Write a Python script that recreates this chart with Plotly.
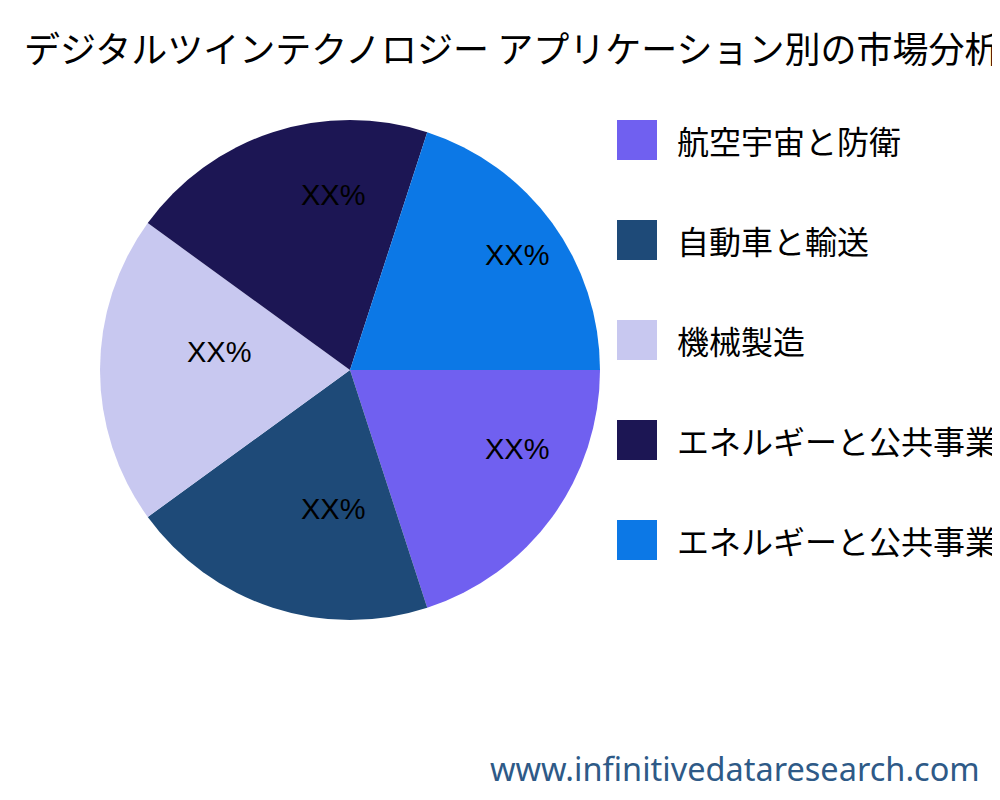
import math
import plotly.graph_objects as go

categories = ["航空宇宙と防衛", "自動車と輸送", "機械製造", "エネルギーと公共事業", "エネルギーと公共事業"]
values = [20, 20, 20, 20, 20]
slice_text = ["XX%"] * 5
colors = ["#7060f0", "#1e4a78", "#c8c8f0", "#1c1654", "#0c78e6"]

font = "Noto Sans CJK JP"
W, H = 1000, 800
off = 8
cx, cy, R = 350 - off, 370 - off, 250
fig = go.Figure(go.Pie(
    labels=[f"{c}{' ' * i}" for i, c in enumerate(categories)],
    values=values, textinfo="none",
    marker=dict(colors=colors), sort=False, direction="clockwise", rotation=90,
    domain=dict(x=[(cx - R) / W, (cx + R) / W], y=[1 - (cy + R) / H, 1 - (cy - R) / H]),
    showlegend=False, hoverinfo="label+percent",
))

shapes, anns = [], []
total = sum(values)
start = 0.0
for v, t in zip(values, slice_text):
    mid = start - v / total * 180
    start -= v / total * 360
    a = math.radians(mid)
    x = cx + 0.66 * R * math.cos(a)
    y = cy - 0.66 * R * math.sin(a)
    anns.append(dict(text=t, xref="paper", yref="paper", x=x / W, y=1 - y / H,
                     xanchor="left", yanchor="bottom", showarrow=False,
                     font=dict(size=29, color="black", family="Liberation Sans")))

for i, (c, col) in enumerate(zip(categories, colors)):
    yc = 140 + i * 100 - off
    shapes.append(dict(type="rect", xref="paper", yref="paper",
                       x0=(617 - off) / W, x1=(657 - off) / W, y0=1 - (yc + 20) / H, y1=1 - (yc - 20) / H,
                       fillcolor=col, line=dict(width=0)))
    anns.append(dict(text=c, xref="paper", yref="paper", x=(675 - off) / W, y=1 - yc / H,
                     xanchor="left", yanchor="middle", showarrow=False,
                     font=dict(size=32, color="black", family=font)))
anns.append(dict(text="デジタルツインテクノロジー アプリケーション別の市場分析", xref="paper", yref="paper",
                 x=(22 - off) / W, y=1 - (47 - off) / H, xanchor="left", yanchor="middle", showarrow=False,
                 font=dict(size=36, color="black", family=font)))
anns.append(dict(text="www.infinitivedataresearch.com", xref="paper", yref="paper",
                 x=(982 - off) / W, y=1 - (768 - off) / H, xanchor="right", yanchor="middle", showarrow=False,
                 font=dict(size=32.5, color="#2e5a87", family="Noto Sans")))

fig.update_layout(width=W, height=H, margin=dict(l=0, r=0, t=0, b=0),
                  paper_bgcolor="white", shapes=shapes, annotations=anns)
fig.write_html("out.html")
